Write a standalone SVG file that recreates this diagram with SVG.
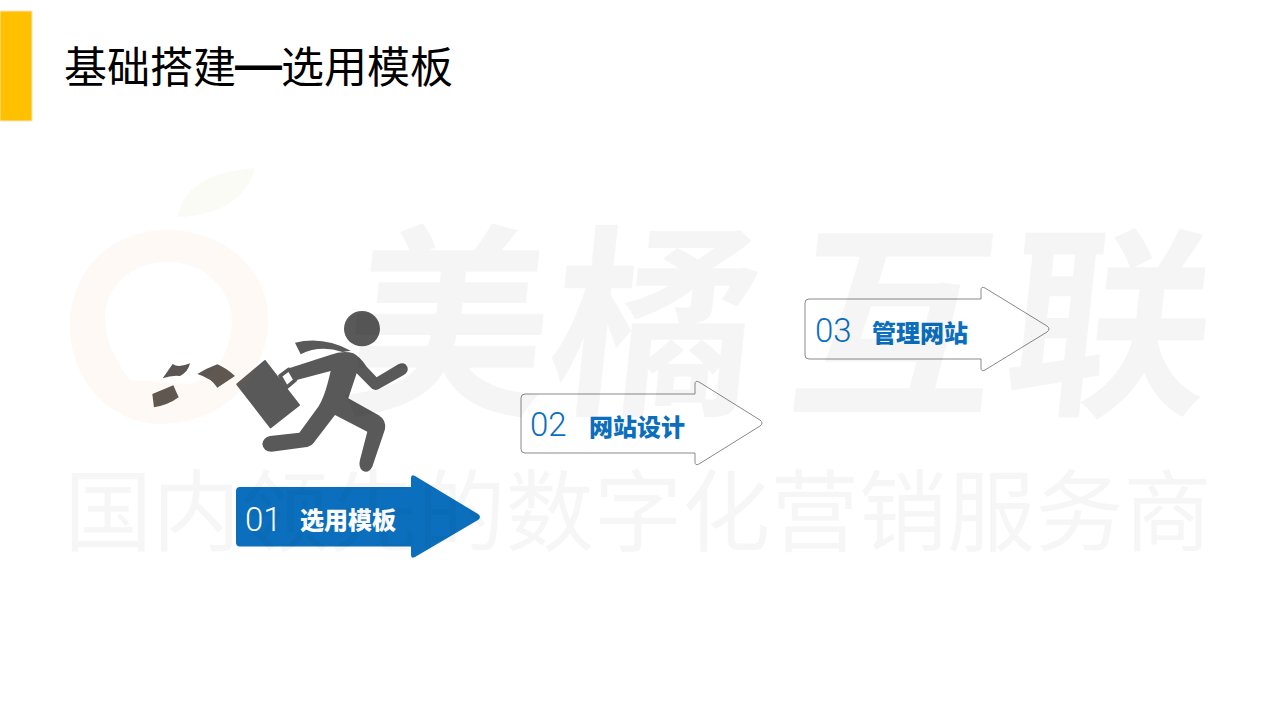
<svg xmlns="http://www.w3.org/2000/svg" width="1280" height="720" viewBox="0 0 1280 720">
<defs>
<style>
.cjk{font-family:"Noto Sans CJK SC","Noto Sans",sans-serif}
.num{font-family:Roboto,"Liberation Sans",sans-serif;font-weight:300;font-size:33px}
.lab{font-family:"Noto Sans CJK SC",sans-serif;font-weight:900;font-size:24px}
.blue{fill:#0b6fbd}
.arrow{stroke:#8a8a8a;stroke-width:1;stroke-linejoin:round}
.man{fill:#595959}
.paper{fill:#5b5654}
</style>
</defs>
<rect width="1280" height="720" fill="#ffffff"/>
<g id="title-bar"><rect x="0" y="11" width="32" height="110" fill="#ffc000" stroke="#f2e6c4" stroke-width="1"/></g>
<g id="title"><text class="cjk" x="64" y="83" font-size="43" fill="#000000">基础搭建<tspan x="235" y="80" font-size="47" font-weight="700" font-family="Liberation Sans">—</tspan><tspan x="281" y="83">选用模板</tspan></text></g>

<g id="runner" transform="translate(140,300) scale(0.3333)">
<ellipse class="man" cx="666" cy="86" rx="54" ry="53"/>
<path class="man" d="M465 128 Q550 108 632 152 L608 156 Q540 134 482 163 Z"/>
<path class="man" d="M447 205 L570 165 Q610 150 640 160 Q660 170 680 200 L710 232 L775 193 Q795 183 803 203 Q806 216 790 226 L715 268 Q700 274 690 260 L650 220 L625 295 L715 345 Q740 360 735 388 L697 500 Q685 522 668 512 Q654 502 660 480 L682 395 L585 345 L520 430 Q510 441 495 442 L395 455 Q370 455 367 432 Q370 412 390 408 L478 398 L535 320 Q555 290 572 213 L470 240 L452 236 Z"/>
<path class="man" d="M375 183 L477 315 L392 382 L292 253 Z" stroke="#595959" stroke-width="6" stroke-linejoin="round"/>
<path d="M420 228 L447 208 L466 240 L440 262 Z" fill="#ffffff" stroke="#595959" stroke-width="11" stroke-linejoin="round"/>
<path class="paper" d="M68 235 L98 192 Q115 205 150 190 Q145 215 120 228 Q95 225 68 235 Z"/>
<path class="paper" d="M172 222 Q200 205 232 193 Q260 205 285 228 L232 263 Q215 235 172 222 Z"/>
<path class="paper" d="M37 282 L100 256 L116 292 Q85 315 42 322 Z"/>
</g>

<g id="connectors"></g>

<g id="step-01">
<path class="blue" d="M240 487 H411 V478 Q411 474 415 476 L478 514 Q482 517 478 520 L415 557 Q411 559 411 555 V546.500 H240 Q236 546.500 236 542.500 V491 Q236 487 240 487 Z"/>
<text class="num" x="245" y="531" fill="#ffffff">01</text>
<text class="lab" x="300" y="529" fill="#ffffff">选用模板</text>
</g>
<g id="step-02">
<path class="arrow" fill="#ffffff" fill-opacity="0.9" d="M525 394 H695 V384 Q695 380 699 382 L760 420 Q764 423 760 426 L699 464 Q695 466 695 462 V453 H525 Q521 453 521 449 V398 Q521 394 525 394 Z"/>
<text class="num blue" x="530" y="436">02</text>
<text class="lab blue" x="589" y="436">网站设计</text>
</g>
<g id="step-03">
<path class="arrow" fill="#ffffff" fill-opacity="0.5" d="M809 299 H981 V290 Q981 286 985 288 L1047 326 Q1051 329 1047 332 L985 370 Q981 372 981 368 V359 H809 Q805 359 805 355 V303 Q805 299 809 299 Z"/>
<text class="num blue" x="815" y="342">03</text>
<text class="lab blue" x="872" y="342">管理网站</text>
</g>

<g id="watermark">
<path fill="#e87a10" fill-opacity="0.045" fill-rule="evenodd" d="M170 230 C115 228 70 268 70 325 C70 385 115 424 160 424 C230 424 268 370 268 320 C268 268 225 232 170 230 Z M168 262 C205 262 232 290 232 322 C232 350 215 378 190 384 L130 380 C115 360 105 340 105 318 C105 288 130 262 168 262 Z"/>
<path fill="#8aa830" fill-opacity="0.05" d="M178 217 C182 190 205 172 255 168 C248 195 225 215 178 217 Z"/>
<text class="cjk" transform="translate(0,399) skewX(-6)" x="338 545 785 1000" y="0" font-size="205" font-weight="700" fill="#000000" fill-opacity="0.04">美橘互联</text>
<text class="cjk" x="64" y="544" font-size="88.300" font-weight="400" fill="#000000" fill-opacity="0.035">国内领先的数字化营销服务商</text>
</g>
</svg>
